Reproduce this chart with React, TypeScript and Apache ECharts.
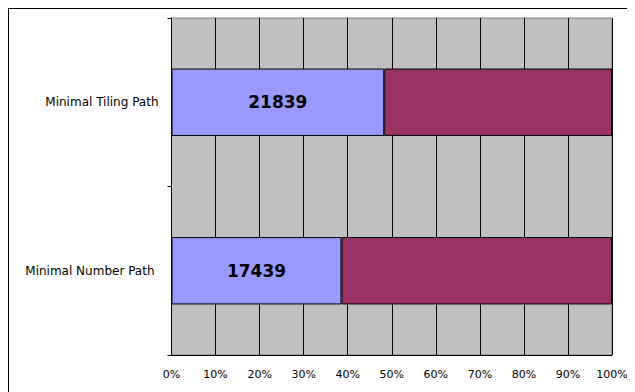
import React, { useEffect, useRef } from "react";
import * as echarts from "echarts";

const categories = ["Minimal Number Path", "Minimal Tiling Path"];
const pathValues = [17439, 21839];
const restValues = [27760, 23380];
const tickLabels = ["0%", "10%", "20%", "30%", "40%", "50%", "60%", "70%", "80%", "90%", "100%"];

export default function App() {
  const ref = useRef<HTMLDivElement>(null);
  useEffect(() => {
    if (!ref.current) return;
    const chart = echarts.init(ref.current, undefined, { renderer: "svg" });
    const totals = pathValues.map((v, i) => v + restValues[i]);
    const pathPct = pathValues.map((v, i) => (v / totals[i]) * 100);
    const restPct = restValues.map((v, i) => (v / totals[i]) * 100);
    chart.setOption({
      animation: false,
      grid: {
        left: 162.5,
        right: 23,
        top: 9,
        bottom: 37,
        show: true,
        backgroundColor: "#C0C0C0",
        borderColor: "#808080",
        borderWidth: 1,
      },
      xAxis: {
        type: "value",
        min: 0,
        max: 100,
        interval: 10,
        axisLine: { show: true, lineStyle: { color: "#000", width: 1 } },
        axisTick: { show: false },
        axisLabel: {
          color: "#000",
          fontSize: 11,
          fontFamily: "DejaVu Sans",
          margin: 14,
          formatter: (v: number) => tickLabels[Math.round(v / 10)],
        },
        splitLine: { show: true, lineStyle: { color: "#000", width: 1 } },
      },
      yAxis: {
        type: "category",
        data: categories,
        axisLine: { show: true, lineStyle: { color: "#000", width: 1 } },
        axisTick: { show: true, length: 4, lineStyle: { color: "#000" } },
        axisLabel: {
          color: "#000",
          fontSize: 12,
          fontFamily: "DejaVu Sans",
          margin: 13,
          formatter: (v: string, i: number) => (i === 0 ? `{n|${v}}` : `{t|${v}}`),
          rich: {
            n: { fontSize: 12, fontFamily: "DejaVu Sans", color: "#000", padding: [0, 4, 0, 0] },
            t: { fontSize: 12, fontFamily: "DejaVu Sans", color: "#000" },
          },
        },
        splitLine: { show: false },
      },
      series: [
        {
          type: "bar",
          stack: "total",
          data: pathPct,
          barWidth: "40%",
          itemStyle: { color: "#9999FF", borderColor: "#000", borderWidth: 1 },
          label: {
            show: true,
            position: "inside",
            color: "#000",
            fontSize: 17,
            fontWeight: "bold",
            fontFamily: "DejaVu Sans",
            formatter: (p: any) => String(pathValues[p.dataIndex]),
          },
        },
        {
          type: "bar",
          stack: "total",
          data: restPct,
          barWidth: "40%",
          itemStyle: { color: "#993366", borderColor: "#000", borderWidth: 1 },
        },
      ],
    });
    return () => chart.dispose();
  }, []);
  return (
    <div
      style={{
        width: 627,
        height: 384,
        borderTop: "1px solid #000",
        borderLeft: "1px solid #000",
        boxSizing: "border-box",
        overflow: "hidden",
      }}
    >
      <div ref={ref} style={{ width: 626, height: 383 }} />
    </div>
  );
}
